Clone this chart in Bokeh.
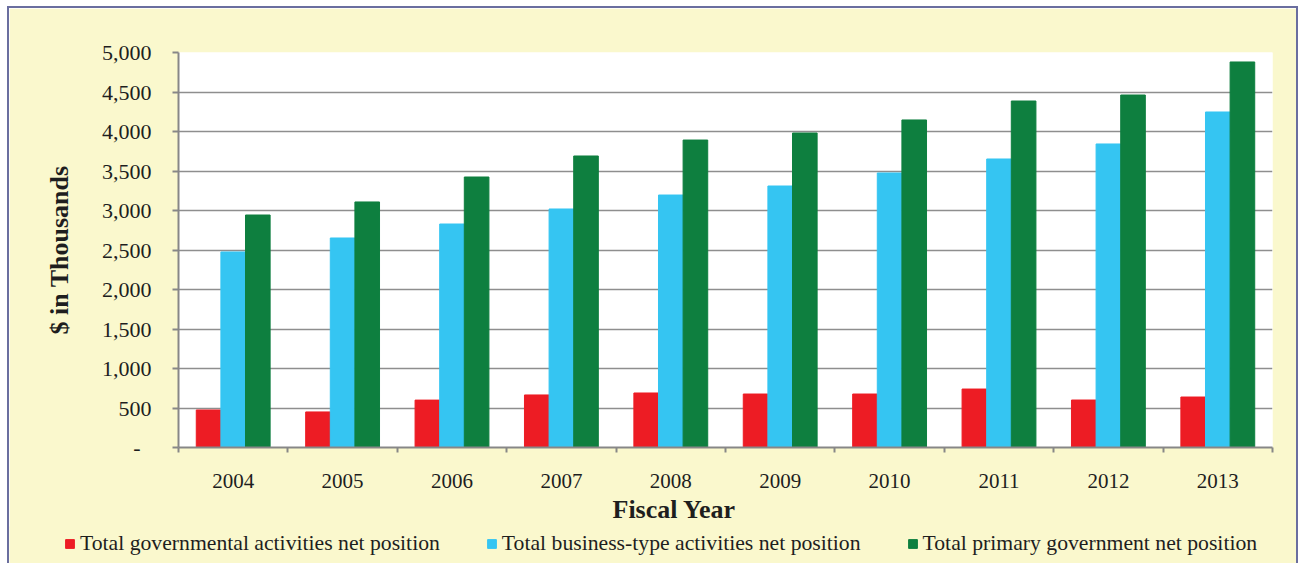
from bokeh.plotting import figure
from bokeh.models import ColumnDataSource, Range1d, FixedTicker, Legend, Title
from bokeh.transform import dodge
from bokeh.embed import file_html
from bokeh.resources import INLINE

years = [2004, 2005, 2006, 2007, 2008, 2009, 2010, 2011, 2012, 2013]
governmental = [475, 450, 600, 665, 690, 677, 677, 740, 601, 639]
business = [2475, 2652, 2829, 3019, 3196, 3310, 3475, 3652, 3842, 4247]
primary = [2943, 3108, 3424, 3690, 3892, 3981, 4146, 4386, 4462, 4880]
series_names = ["Total governmental activities net position",
                "Total business-type activities net position",
                "Total primary government net position"]
y_ticks = [0, 500, 1000, 1500, 2000, 2500, 3000, 3500, 4000, 4500, 5000]
y_tick_labels = ["-\u2002", "500", "1,000", "1,500", "2,000", "2,500",
                 "3,000", "3,500", "4,000", "4,500", "5,000"]
x_title = "Fiscal Year"
y_title = "$ in Thousands"

FONT = "Liberation Serif"
TXT = "#1e1e1e"
BG = "#FAF8CD"
AX = "#878787"
BORDER = "2px solid #6A6E9F"
cols = ["#ED1C24", "#35C5F2", "#0E7F3F"]

src = ColumnDataSource(dict(year=years, gov=governmental, bus=business, pri=primary))

p = figure(width=1291, height=522, output_backend="svg", toolbar_location=None,
           x_range=Range1d(years[0] - 0.5, years[-1] + 0.5), y_range=Range1d(0, 5000),
           min_border_left=169, min_border_right=28, min_border_top=44, min_border_bottom=83)
p.styles = {"border-top": BORDER, "border-left": BORDER, "border-right": BORDER,
            "margin-left": "7px", "margin-top": "6px"}
p.border_fill_color = BG
p.background_fill_color = "white"
p.outline_line_color = None

w = 0.225
p.vbar(x=dodge("year", -w, range=p.x_range), top="gov", width=w, source=src, color=cols[0])
p.vbar(x=dodge("year", 0.0, range=p.x_range), top="bus", width=w, source=src, color=cols[1])
p.vbar(x=dodge("year", w, range=p.x_range), top="pri", width=w, source=src, color=cols[2])

# x axis
xa = p.xaxis[0]
xa.ticker = FixedTicker(ticks=years, minor_ticks=[y - 0.5 for y in years] + [years[-1] + 0.5])
xa.major_label_overrides = {y: str(y) for y in years}
xa.major_tick_out = 0
xa.major_tick_in = 0
xa.minor_tick_out = 5
xa.minor_tick_in = 0
xa.minor_tick_line_color = AX
xa.minor_tick_line_width = 2
xa.axis_line_color = AX
xa.axis_line_width = 2
xa.major_label_text_font = FONT
xa.major_label_text_font_size = "21px"
xa.major_label_text_color = TXT
xa.major_label_standoff = 21

# y axis
ya = p.yaxis[0]
ya.ticker = FixedTicker(ticks=y_ticks)
ya.major_label_overrides = {t: l for t, l in zip(y_ticks, y_tick_labels)}
ya.major_tick_out = 6
ya.major_tick_in = 0
ya.minor_tick_out = 0
ya.minor_tick_in = 0
ya.major_tick_line_color = AX
ya.major_tick_line_width = 2
ya.axis_line_color = AX
ya.axis_line_width = 2
ya.major_label_text_font = FONT
ya.major_label_text_font_size = "22px"
ya.major_label_text_color = TXT
ya.major_label_standoff = 21
ya.axis_label = y_title
ya.axis_label_text_font = FONT
ya.axis_label_text_font_style = "bold"
ya.axis_label_text_font_size = "26px"
ya.axis_label_text_color = TXT
ya.axis_label_standoff = 25

p.xgrid.grid_line_color = None
p.ygrid.grid_line_color = "#8E8E8E"
p.ygrid.grid_line_width = 1.5

p.add_layout(Title(text=x_title, align="left", offset=434, standoff=5,
                   text_font=FONT, text_font_style="bold", text_font_size="26px",
                   text_color=TXT), "below")

# legend strip (separate root so its frame spans the full width)
p2 = figure(width=1291, height=37, output_backend="svg", toolbar_location=None,
            x_range=Range1d(0, 1), y_range=Range1d(0, 1),
            x_axis_location=None, y_axis_location=None,
            min_border_left=0, min_border_right=0, min_border_top=0, min_border_bottom=0)
p2.styles = {"border-left": BORDER, "border-right": BORDER, "margin-left": "7px",
             "margin-top": "-2px"}
p2.border_fill_color = BG
p2.background_fill_color = BG
p2.outline_line_color = None
p2.grid.grid_line_color = None
l1 = p2.vbar(x="year", top="gov", width=w, source=src, color=cols[0])
l2 = p2.vbar(x="year", top="bus", width=w, source=src, color=cols[1])
l3 = p2.vbar(x="year", top="pri", width=w, source=src, color=cols[2])
legend = Legend(items=[(series_names[0], [l1]), (series_names[1], [l2]), (series_names[2], [l3])],
                orientation="horizontal", location=(55, 7),
                glyph_width=11, glyph_height=11, label_standoff=5, spacing=46,
                padding=0, margin=0, border_line_color=None, background_fill_alpha=0,
                label_text_font=FONT, label_text_font_size="21.7px", label_text_color=TXT)
p2.add_layout(legend, "center")

open("out.html", "w").write(file_html([p, p2], INLINE))
